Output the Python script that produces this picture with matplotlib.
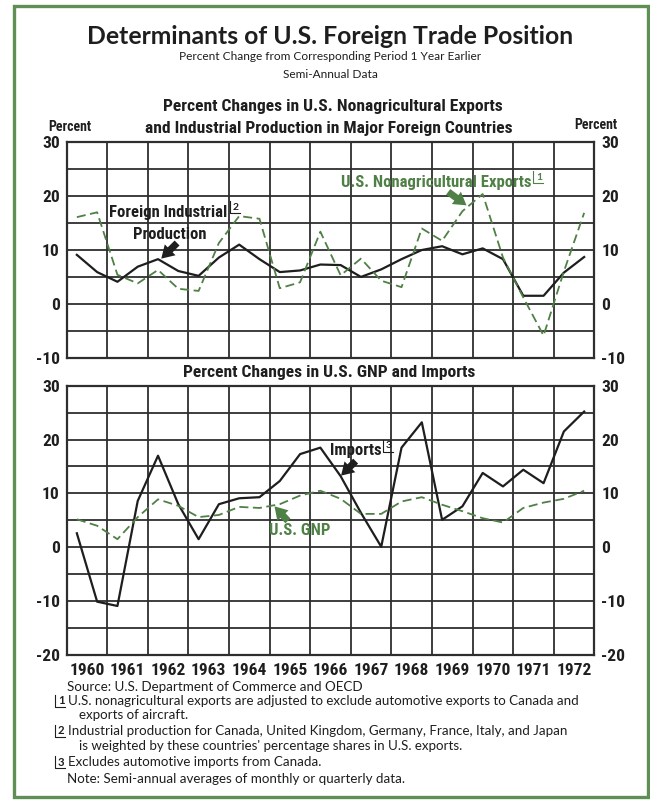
import matplotlib
matplotlib.use("Agg")
import matplotlib.pyplot as plt
from matplotlib import font_manager
from matplotlib.patches import Rectangle
from matplotlib.lines import Line2D

# semi-annual data, 1960 H1 .. 1972 H2
years = list(range(1960, 1973))
periods = [y + h for y in years for h in (0.25, 0.75)]

foreign_ip = [9.1, 5.9, 4.1, 6.9, 8.3, 6.1, 5.2, 8.6, 11.0, 8.3, 5.9, 6.2, 7.3,
              7.2, 5.0, 6.4, 8.3, 10.0, 10.7, 9.2, 10.3, 8.3, 1.5, 1.5, 5.8, 8.7]
nonag_exports = [16.1, 17.0, 5.4, 3.8, 6.3, 2.8, 2.4, 11.3, 16.3, 15.8, 2.9, 4.0, 13.4,
                 5.3, 8.4, 4.3, 3.1, 14.0, 11.7, 17.2, 20.4, 8.6, 1.2, -5.9, 6.0, 16.9]
imports = [2.6, -10.1, -10.9, 8.6, 17.0, 8.0, 1.5, 8.0, 9.1, 9.3, 12.3, 17.3, 18.5,
           13.2, 6.4, 0.1, 18.5, 23.2, 5.1, 7.6, 13.8, 11.3, 14.4, 11.9, 21.5, 25.2]
gnp = [5.2, 4.0, 1.5, 5.6, 8.9, 7.7, 5.6, 6.0, 7.5, 7.3, 8.0, 9.6, 10.5,
       9.0, 6.2, 6.2, 8.5, 9.3, 7.9, 6.7, 5.4, 4.6, 7.3, 8.3, 9.0, 10.5]

top_ticks = [-10, 0, 10, 20, 30]
bottom_ticks = [-20, -10, 0, 10, 20, 30]

GREEN = "#4f8045"
DARK = "#1e1e1e"
GRID = "#2e2e2e"

installed = {f.name for f in font_manager.fontManager.ttflist}
COND = next((n for n in ["DejaVu Sans Condensed", "Liberation Sans Narrow",
                         "Roboto Condensed", "Open Sans Condensed"] if n in installed),
            "DejaVu Sans")
BODY = "Lato" if "Lato" in installed else "DejaVu Sans"

W, H = 650, 800
fig = plt.figure(figsize=(W / 100, H / 100), dpi=100)


def px(x, y):
    return x / W, 1 - y / H


def ftext(x, y, s, size, family=COND, weight="bold", color=DARK, ha="center", va="center"):
    fig.text(*px(x, y), s, fontsize=size, family=family, weight=weight, color=color,
             ha=ha, va=va, fontstretch="condensed")


def fnmark(x, y, num, size, color=DARK, family=BODY):
    # footnote marker: digit inside an L shaped bracket
    fig.text(*px(x + 3, y), num, fontsize=size, family=family, color=color,
             ha="left", va="center", weight="bold")
    fig.add_artist(Line2D([x / W, x / W, (x + 10) / W],
                          [1 - (y - 6) / H, 1 - (y + 6) / H, 1 - (y + 6) / H],
                          transform=fig.transFigure, color=color, lw=0.8))


def style_axes(ax, ylim, yticks, show_years):
    ax.set_xlim(1960, 1973)
    ax.set_ylim(*ylim)
    ax.set_xticks(range(1960, 1974))
    ax.set_xticks([y + 0.5 for y in years], minor=True)
    ax.set_xticklabels([])
    if show_years:
        ax.set_xticklabels([str(y) for y in years], minor=True)
    else:
        ax.set_xticklabels([], minor=True)
    ax.set_yticks(yticks)
    ax.set_yticks(range(ylim[0], ylim[1] + 1, 5), minor=True)
    ax.set_yticklabels([str(t) for t in yticks])
    ax.grid(True, which="major", color=GRID, lw=1.3)
    ax.grid(True, which="minor", axis="y", color=GRID, lw=1.3)
    ax.tick_params(which="both", length=0, labelright=True, pad=5)
    ax.tick_params(axis="x", which="minor", pad=6)
    for lab in ax.get_yticklabels() + ax.get_xticklabels(minor=True):
        lab.set_fontsize(12.5)
        lab.set_fontweight("bold")
        lab.set_family(COND)
        lab.set_fontstretch("condensed")
        lab.set_color(DARK)
    for sp in ax.spines.values():
        sp.set_color(GRID)
        sp.set_linewidth(1.6)


# top panel: exports and foreign industrial production
ax1 = fig.add_axes([66.7 / W, 1 - 357.7 / H, 527.6 / W, 215.4 / H])
style_axes(ax1, (-10, 30), top_ticks, False)
ax1.plot(periods, foreign_ip, color=DARK, lw=1.6, zorder=3)
ax1.plot(periods, nonag_exports, color=GREEN, lw=1.3, ls=(0, (5, 2.5)), zorder=3)

# bottom panel: GNP and imports
ax2 = fig.add_axes([66.7 / W, 1 - 655 / H, 527.6 / W, 269.3 / H])
style_axes(ax2, (-20, 30), bottom_ticks, True)
ax2.plot(periods, imports, color=DARK, lw=1.6, zorder=3)
ax2.plot(periods, gnp, color=GREEN, lw=1.3, ls=(0, (5, 2.5)), zorder=3)

arrow = dict(arrowstyle="simple, head_width=1.1, head_length=0.9, tail_width=0.5",
             mutation_scale=10, lw=0, shrinkA=0, shrinkB=0)

# series labels with pointer arrows
lbl = dict(fontsize=12, family=COND, weight="bold", ha="center", va="center",
           fontstretch="condensed")
ax1.text(1962.5, 17.0, "Foreign Industrial", color=DARK, **lbl)
ax1.text(1962.55, 12.8, "Production", color=DARK, **lbl)
ax1.annotate("", xy=(1962.33, 8.4), xytext=(1962.72, 11.3),
             arrowprops=dict(arrow, color=DARK))
ax1.text(1969.1, 22.6, "U.S. Nonagricultural Exports", color=GREEN, **lbl)
ax1.annotate("", xy=(1969.85, 18.3), xytext=(1969.4, 20.8),
             arrowprops=dict(arrow, color=GREEN))

ax2.text(1967.13, 18.0, "Imports", color=DARK, **lbl)
ax2.annotate("", xy=(1966.76, 13.3), xytext=(1967.12, 16.0),
             arrowprops=dict(arrow, color=DARK))
ax2.text(1965.75, 3.2, "U.S. GNP", color=GREEN, **lbl)
ax2.annotate("", xy=(1965.12, 7.6), xytext=(1965.45, 4.9),
             arrowprops=dict(arrow, color=GREEN))

fnmark(230, 207, "2", 7.5, DARK)
fnmark(533, 177, "1", 7.5, GREEN)
fnmark(383, 446, "3", 7.5, DARK)

# titles
ftext(330, 37, "Determinants of U.S. Foreign Trade Position", 17.8, family=BODY)
ftext(330, 57, "Percent Change from Corresponding Period 1 Year Earlier", 8.6,
      family=BODY, weight="normal")
ftext(330, 74, "Semi-Annual Data", 8.6, family=BODY, weight="normal")
ftext(333, 107, "Percent Changes in U.S. Nonagricultural Exports", 12.6)
ftext(329, 129, "and Industrial Production in Major Foreign Countries", 12.6)
ftext(70, 127, "Percent", 10)
ftext(596, 125, "Percent", 10)
ftext(329, 372, "Percent Changes in U.S. GNP and Imports", 12.6)

# footnotes
fs = 9.6
ftext(67, 687, "Source: U.S. Department of Commerce and OECD", fs, family=BODY,
      weight="normal", ha="left")
fnmark(55, 701, "1", fs - 1.5)
ftext(68, 701, "U.S. nonagricultural exports are adjusted to exclude automotive exports to Canada and",
      fs, family=BODY, weight="normal", ha="left")
ftext(79, 715, "exports of aircraft.", fs, family=BODY, weight="normal", ha="left")
fnmark(55, 731, "2", fs - 1.5)
ftext(68, 731, "Industrial production for Canada, United Kingdom, Germany, France, Italy, and Japan",
      fs, family=BODY, weight="normal", ha="left")
ftext(79, 746, "is weighted by these countries' percentage shares in U.S. exports.", fs,
      family=BODY, weight="normal", ha="left")
fnmark(55, 762, "3", fs - 1.5)
ftext(68, 762, "Excludes automotive imports from Canada.", fs, family=BODY,
      weight="normal", ha="left")
ftext(67, 779, "Note: Semi-annual averages of monthly or quarterly data.", fs, family=BODY,
      weight="normal", ha="left")

# green frame around the whole exhibit
fig.add_artist(Rectangle((14 / W, 1 - 797 / H), 634 / W, 791 / H, transform=fig.transFigure,
                         fill=False, edgecolor="#5f8f55", lw=2.4))

fig.savefig("out.png", dpi=100)
